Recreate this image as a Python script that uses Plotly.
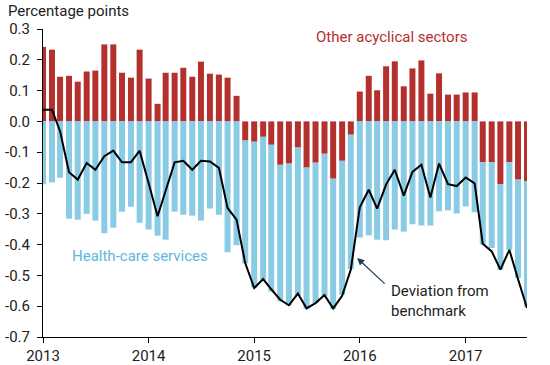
import pandas as pd
import plotly.graph_objects as go

months = pd.date_range("2013-01-01", periods=56, freq="MS").strftime("%Y-%m-%d").tolist()

other_acyclical = [
    0.242, 0.233, 0.145, 0.148, 0.129, 0.162, 0.165, 0.250, 0.250, 0.158, 0.142, 0.233,
    0.139, 0.057, 0.158, 0.158, 0.174, 0.145, 0.194, 0.155, 0.152, 0.142, 0.083, -0.062,
    -0.066, -0.050, -0.076, -0.141, -0.137, -0.085, -0.150, -0.134, -0.105, -0.186, -0.128, -0.043,
    0.097, 0.148, 0.101, 0.179, 0.195, 0.114, 0.172, 0.198, 0.090, 0.156, 0.087, 0.087,
    0.094, 0.094, -0.133, -0.133, -0.204, -0.133, -0.189, -0.195,
]

health_care = [
    -0.204, -0.198, -0.183, -0.316, -0.319, -0.300, -0.322, -0.363, -0.345, -0.293, -0.277, -0.329,
    -0.351, -0.371, -0.384, -0.293, -0.303, -0.306, -0.322, -0.283, -0.303, -0.425, -0.402, -0.399,
    -0.473, -0.464, -0.476, -0.443, -0.461, -0.481, -0.459, -0.456, -0.463, -0.423, -0.435, -0.436,
    -0.377, -0.370, -0.384, -0.386, -0.351, -0.358, -0.334, -0.338, -0.338, -0.292, -0.289, -0.299,
    -0.276, -0.295, -0.267, -0.278, -0.277, -0.284, -0.319, -0.408,
]

deviation = [
    0.038, 0.038, -0.032, -0.165, -0.189, -0.135, -0.157, -0.113, -0.095, -0.133, -0.133, -0.095,
    -0.200, -0.308, -0.225, -0.133, -0.128, -0.157, -0.128, -0.130, -0.151, -0.281, -0.319, -0.460,
    -0.541, -0.512, -0.545, -0.579, -0.597, -0.559, -0.607, -0.590, -0.564, -0.607, -0.566, -0.481,
    -0.279, -0.222, -0.283, -0.205, -0.157, -0.241, -0.164, -0.141, -0.247, -0.137, -0.204, -0.210,
    -0.182, -0.201, -0.397, -0.422, -0.481, -0.417, -0.512, -0.606,
]

y_tick_vals = [0.3, 0.2, 0.1, 0.0, -0.1, -0.2, -0.3, -0.4, -0.5, -0.6, -0.7]
y_tick_text = ["0.3", "0.2", "0.1", "0.0", "-0.1", "-0.2", "-0.3", "-0.4", "-0.5", "-0.6", "-0.7"]
x_tick_vals = ["2013-01-01", "2014-01-01", "2015-01-01", "2016-01-01", "2017-01-01"]
x_tick_text = ["2013", "2014", "2015", "2016", "2017"]

RED = "#B3302D"
BLUE = "#89CBE4"
FONT = "Roboto"
FS = 15

fig = go.Figure()
fig.add_trace(go.Bar(x=months, y=other_acyclical, marker=dict(color=RED, line=dict(width=0)),
                     name="Other acyclical sectors"))
fig.add_trace(go.Bar(x=months, y=health_care, marker=dict(color=BLUE, line=dict(width=0)),
                     name="Health-care services"))
fig.add_trace(go.Scatter(x=months, y=deviation, mode="lines",
                         line=dict(color="black", width=2), name="Deviation from benchmark"))

fig.update_layout(
    width=550, height=365,
    margin=dict(l=43, r=23, t=29, b=28, autoexpand=False),
    barmode="relative", bargap=0.26,
    showlegend=False,
    plot_bgcolor="white", paper_bgcolor="white",
    font=dict(family=FONT, size=FS, color="#222222"),
)
fig.update_xaxes(
    type="date", range=["2013-01-01", "2017-08-01"],
    tickvals=x_tick_vals, ticktext=x_tick_text,
    showgrid=False, zeroline=False, automargin=False,
    showline=True, linecolor="black", linewidth=1,
    ticks="outside", ticklen=5, tickcolor="black",
    tickfont=dict(family=FONT, size=FS, color="#222222"),
)
fig.update_yaxes(
    range=[-0.7, 0.3],
    tickvals=y_tick_vals, ticktext=y_tick_text,
    showgrid=False, zeroline=False, automargin=False,
    showline=True, linecolor="black", linewidth=1,
    ticks="outside", ticklen=5, tickcolor="black",
    ticklabelstandoff=4,
    tickfont=dict(family=FONT, size=FS, color="#222222"),
)

fig.add_annotation(text="Percentage points", xref="paper", yref="paper",
                   x=-0.076, y=1.058, xanchor="left", yanchor="middle", showarrow=False,
                   font=dict(family=FONT, size=FS, color="#222222"))
fig.add_annotation(text="Other acyclical sectors", xref="paper", yref="paper",
                   x=0.72, y=0.975, xanchor="center", yanchor="middle", showarrow=False,
                   font=dict(family=FONT, size=FS, color=RED))
fig.add_annotation(text="Health-care services", xref="paper", yref="paper",
                   x=0.2, y=0.262, xanchor="center", yanchor="middle", showarrow=False,
                   font=dict(family=FONT, size=FS, color="#5BB8DD"))
fig.add_annotation(text="Deviation from<br>benchmark", xref="paper", yref="paper",
                   x=0.715, y=0.118, xanchor="left", yanchor="middle", align="left",
                   showarrow=False, font=dict(family=FONT, size=FS, color="#222222"))
fig.add_annotation(text="", xref="paper", yref="paper", x=0.649, y=0.2565,
                   ax=29, ay=27, showarrow=True, arrowhead=2, arrowsize=1.2,
                   arrowwidth=1.2, arrowcolor="#1B3A5C")

fig.write_html(
    "out.html",
    config={"displayModeBar": False},
    post_script="document.body.style.margin='0';document.body.style.overflow='hidden';",
)
